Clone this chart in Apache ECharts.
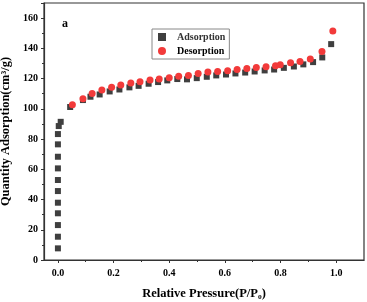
<!DOCTYPE html>
<html><head><meta charset="utf-8">
<script src="https://cdn.jsdelivr.net/npm/echarts@6/dist/echarts.min.js"></script>
<style>html,body{margin:0;padding:0;background:#fff}#c{width:367px;height:302px}</style>
</head><body><div id="c"></div>
<script>
var adsX = [0.0,0.0,0.0,0.0,0.0,0.0,0.0,0.0,0.0,0.0,0.0,0.003,0.01,0.044,0.09,0.117,0.15,0.186,0.221,0.257,0.29,0.326,0.36,0.393,0.429,0.464,0.499,0.535,0.569,0.604,0.638,0.673,0.707,0.743,0.777,0.812,0.848,0.882,0.917,0.95,0.982];
var adsY = [7.7,15.4,23.1,30.9,37.9,45.6,52.9,60.6,68.3,76.5,83.3,88.6,91.4,101.2,105.8,108,109.5,111.5,112.8,114.2,115.2,116.6,117.7,118.8,119.7,119.5,120.3,121.2,122.1,122.7,123.4,124,124.7,125.4,126,127.1,128,129.4,130.9,134,142.8];
var desX = [0.052,0.09,0.123,0.158,0.193,0.226,0.262,0.295,0.331,0.364,0.4,0.434,0.469,0.504,0.539,0.574,0.61,0.644,0.679,0.713,0.748,0.782,0.799,0.836,0.87,0.907,0.949,0.988];
var desY = [102.7,106.6,110.2,112.4,114.2,115.7,117,117.9,119,119.7,120.5,121.5,122.1,123.4,124.3,124.7,125.2,126,126.7,127.4,127.8,128.5,129.1,130.4,131.3,133,137.9,151.4];
var seriesNames = ['Adsorption','Desorption'];
var xTicks = [0.0,0.2,0.4,0.6,0.8,1.0];
var xMinorTicks = [0.1,0.3,0.5,0.7,0.9];

function zip(a,b){return a.map(function(v,i){return [v,b[i]];});}
var font = '"Liberation Serif","Times New Roman",serif';
var chart = echarts.init(document.getElementById('c'));
chart.setOption({
  animation:false,
  backgroundColor:'#fff',
  grid:{left:44,top:3,right:3,bottom:42,show:true,borderColor:'#333',borderWidth:1.2,containLabel:false,outerBoundsMode:'none'},
  title:{text:'a',left:62,top:18,padding:0,textStyle:{fontFamily:font,fontWeight:'bold',fontSize:12,color:'#000'}},
  legend:{
    orient:'vertical', left:152, top:29,
    itemWidth:8,itemHeight:8,itemGap:4,padding:[3,4,3,6],
    borderColor:'#888',borderWidth:1,
    data:[
      {name:seriesNames[0],textStyle:{color:'#333'}},
      {name:seriesNames[1],textStyle:{color:'#000'}}
    ],
    textStyle:{fontFamily:font,fontWeight:'bold',fontSize:10,color:'#000',padding:[0,0,0,6]}
  },
  xAxis:[{
    type:'value',min:-0.05,max:1.1,
    name:'Relative Pressure(P/P\u2080)',nameLocation:'middle',nameGap:27,
    nameTextStyle:{fontFamily:font,fontWeight:'bold',fontSize:12.5,color:'#000'},
    axisLine:{onZero:false,lineStyle:{color:'#333',width:1.2}},
    axisTick:{inside:false,length:3,customValues:xTicks,lineStyle:{color:'#333'}},
    splitLine:{show:false},
    axisLabel:{fontFamily:font,fontWeight:'bold',fontSize:10,color:'#000',margin:8,customValues:xTicks,
      formatter:function(v){return v.toFixed(1);}}
  },{
    type:'value',min:-0.05,max:1.1,position:'bottom',
    axisLine:{show:false,onZero:false},
    axisTick:{inside:false,length:2,customValues:xMinorTicks,lineStyle:{color:'#333'}},
    axisLabel:{show:false},
    splitLine:{show:false}
  }],
  yAxis:{
    type:'value',min:0,max:170,interval:20,
    name:'Quantity Adsorption(cm\u00b3/g)',nameLocation:'middle',nameGap:27,
    nameTextStyle:{fontFamily:font,fontWeight:'bold',fontSize:12.5,color:'#000'},
    axisLine:{show:true,onZero:false,lineStyle:{color:'#333',width:1.2}},
    axisTick:{show:true,length:3,lineStyle:{color:'#333'}},
    minorTick:{show:true,splitNumber:2,length:2,lineStyle:{color:'#333'}},
    splitLine:{show:false},
    axisLabel:{fontFamily:font,fontWeight:'bold',fontSize:10,color:'#000',margin:6,showMaxLabel:false}
  },
  series:[
    {name:seriesNames[0],type:'scatter',symbol:'rect',symbolSize:6,data:zip(adsX,adsY),itemStyle:{color:'#3f3f3f',opacity:1}},
    {name:seriesNames[1],type:'scatter',symbol:'circle',symbolSize:7,data:zip(desX,desY),itemStyle:{color:'#f23a3a',opacity:1}}
  ]
});
</script></body></html>
